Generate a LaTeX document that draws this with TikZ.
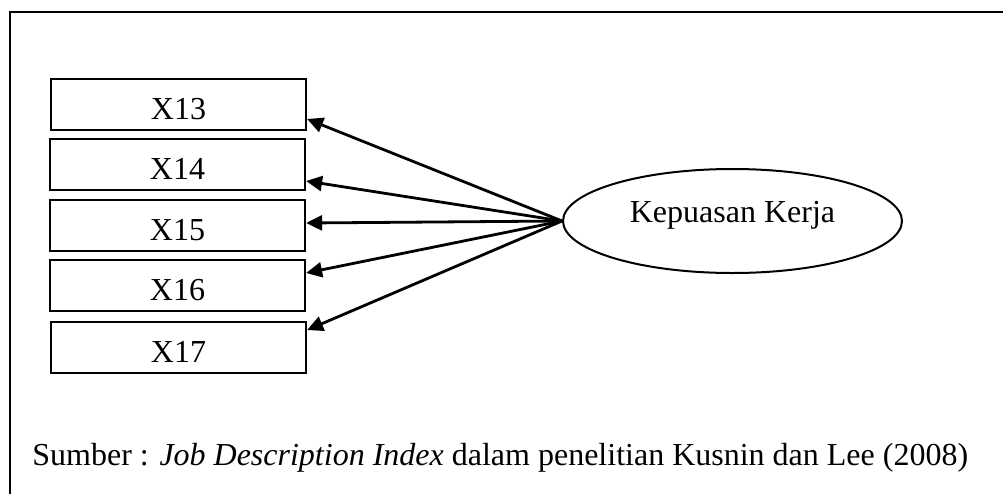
\documentclass[tikz,border=0pt]{standalone}
\usepackage{fontspec}
\setmainfont{Liberation Serif}
\usetikzlibrary{arrows.meta,shapes.geometric}
\begin{document}
\begin{tikzpicture}[x=0.5pt,y=-0.5pt,
  every node/.style={font=\fontsize{16}{19}\selectfont},
  vbox/.style={draw,line width=1.1pt,inner sep=0pt,minimum width=127.5pt,minimum height=25.5pt,text height=20pt,text depth=5.5pt},
  latent/.style={draw,ellipse,line width=1pt,inner sep=0pt,minimum width=169.5pt,minimum height=52pt,text height=5pt,text depth=4pt},
  arr/.style={line width=1.4pt,-{Triangle[length=8pt,width=7.5pt]}},
  frame/.style={line width=1pt}]
\useasboundingbox (0,0) rectangle (1003,494);
\draw[frame] (10,494) -- (10,12) -- (1003,12);
\node[vbox] (x13) at (178.5,104.5) {X13};
\node[vbox] (x14) at (177.5,164.5) {X14};
\node[vbox] (x15) at (177.5,225.5) {X15};
\node[vbox] (x16) at (177.5,285.5) {X16};
\node[vbox] (x17) at (178.5,347.5) {X17};
\node[latent] (k) at (732.5,221) {Kepuasan Kerja};
\draw[arr] (k.west) -- ([yshift=-7.25pt]x13.east);
\draw[arr] (k.west) -- ([yshift=-8.25pt]x14.east);
\draw[arr] (k.west) -- ([yshift=1.25pt]x15.east);
\draw[arr] (k.west) -- ([yshift=6.25pt]x16.east);
\draw[arr] (k.west) -- ([yshift=8.75pt]x17.east);
\node[anchor=base west,inner sep=0pt] (src) at (32,465) {Sumber : \textit{Job Description Index} dalam penelitian Kusnin dan Lee (2008)};
\end{tikzpicture}
\end{document}
